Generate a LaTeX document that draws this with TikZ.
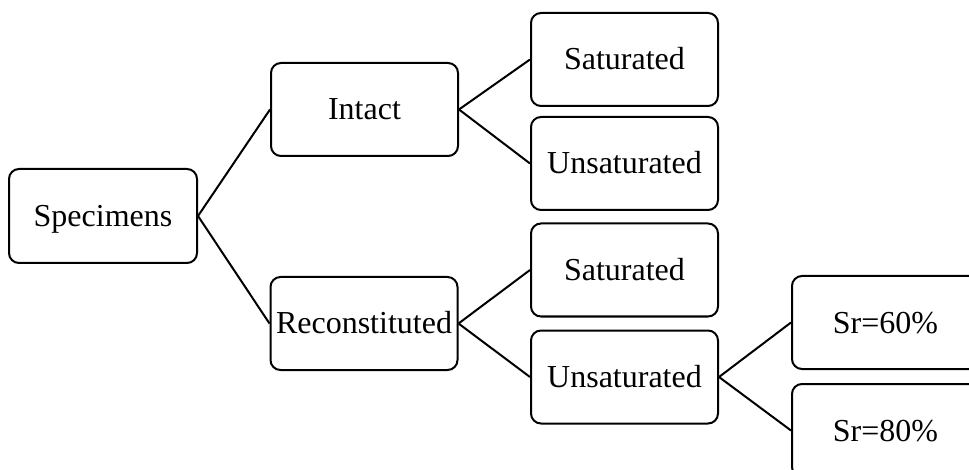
\documentclass[tikz,border=0pt]{standalone}
\usepackage{fontspec}
\setmainfont{Liberation Serif}
\begin{document}
\begin{tikzpicture}[x=1pt,y=-1pt,
  box/.style={draw=black,line width=2pt,rounded corners=10pt,minimum width=187pt,minimum height=93pt,inner sep=0pt,font=\fontsize{32}{38}\selectfont,text height=28pt,text depth=7pt},
  link/.style={line width=2pt}]
\clip (0,0) rectangle (969,470);
\useasboundingbox (0,0) rectangle (969,470);
\node[box,minimum width=188pt,minimum height=94pt] (spec) at (103,216) {Specimens};
\node[box] (intact) at (364.5,109.5) {Intact};
\node[box] (sat1) at (624.5,59.5) {Saturated};
\node[box] (uns1) at (624.5,163.5) {Unsaturated};
\node[box] (recon) at (364,323.5) {Reconstituted};
\node[box] (sat2) at (624.5,270) {Saturated};
\node[box] (uns2) at (624.5,377) {Unsaturated};
\node[box] (sr60) at (885.5,322.5) {Sr=60\%};
\node[box] (sr80) at (885.5,430.5) {Sr=80\%};
\draw[link] (spec.east) -- (intact.west);
\draw[link] (spec.east) -- (recon.west);
\draw[link] (intact.east) -- (sat1.west);
\draw[link] (intact.east) -- (uns1.west);
\draw[link] (recon.east) -- (sat2.west);
\draw[link] (recon.east) -- (uns2.west);
\draw[link] (uns2.east) -- (sr60.west);
\draw[link] (uns2.east) -- (sr80.west);
\end{tikzpicture}
\end{document}
